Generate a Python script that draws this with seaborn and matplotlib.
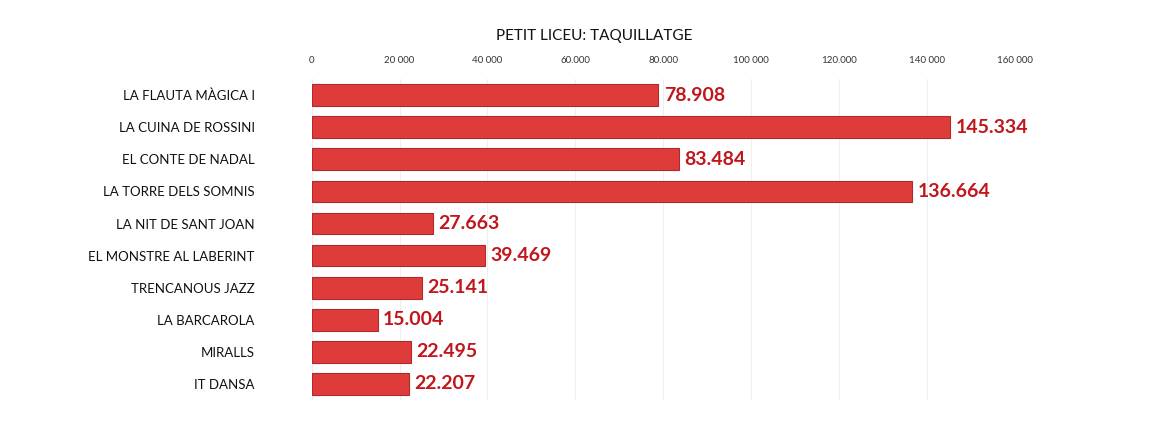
import matplotlib
matplotlib.use("Agg")
import matplotlib.pyplot as plt
import seaborn as sns
import pandas as pd

shows = [
    "LA FLAUTA MÀGICA I",
    "LA CUINA DE ROSSINI",
    "EL CONTE DE NADAL",
    "LA TORRE DELS SOMNIS",
    "LA NIT DE SANT JOAN",
    "EL MONSTRE AL LABERINT",
    "TRENCANOUS JAZZ",
    "LA BARCAROLA",
    "MIRALLS",
    "IT DANSA",
]
ticket_sales = [78908, 145334, 83484, 136664, 27663, 39469, 25141, 15004, 22495, 22207]
tick_values = [0, 20000, 40000, 60000, 80000, 100000, 120000, 140000, 160000]
tick_labels = ["0", "20 000", "40 000", "60.000", "80.000", "100 000", "120.000", "140 000", "160 000"]

df = pd.DataFrame({"show": shows, "sales": ticket_sales})

sns.set_style("white")
plt.rcParams["font.family"] = ["Lato", "DejaVu Sans"]

fig = plt.figure(figsize=(11.76, 4.21), dpi=100)
ax = fig.add_axes([0.265, 0.05, 0.598, 0.762])

sns.barplot(data=df, x="sales", y="show", orient="h", color="#e03b3b",
            edgecolor="#b02a2a", linewidth=0.8, width=0.68, saturation=1, ax=ax)

for i, v in enumerate(ticket_sales):
    ax.text(v + 1200, i, f"{v:,}".replace(",", "."), va="center", ha="left",
            fontsize=14, fontweight="bold", color="#c0161c")

ax.set_xlim(0, 160000)
ax.set_ylim(9.5, -0.5)
ax.set_xticks(tick_values)
ax.set_xticklabels(tick_labels, fontsize=7, color="#333333")
ax.xaxis.tick_top()
ax.tick_params(axis="x", length=0, pad=10)
ax.tick_params(axis="y", length=0, pad=41, labelsize=9.5)
for lbl in ax.get_yticklabels():
    lbl.set_color("#111111")
ax.set_xlabel("")
ax.set_ylabel("")
ax.grid(axis="x", color="#efefef", linewidth=0.8)
ax.set_axisbelow(True)
for s in ax.spines.values():
    s.set_visible(False)

fig.text(0.505, 0.915, "PETIT LICEU: TAQUILLATGE", ha="center", va="center",
         fontsize=11, color="#111111")

fig.savefig("out.png", dpi=100)
